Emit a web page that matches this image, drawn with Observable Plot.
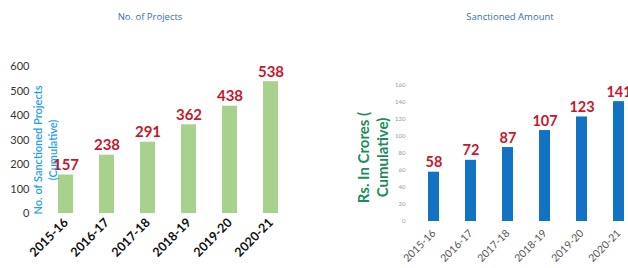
<!DOCTYPE html>
<html>
<head>
<meta charset="utf-8">
<script src="https://cdn.jsdelivr.net/npm/d3@7"></script>
<script src="https://cdn.jsdelivr.net/npm/@observablehq/plot@0.6"></script>
<style>
  html, body { margin: 0; padding: 0; background: #fff; overflow: hidden; }
  #wrap { position: relative; width: 628px; height: 268px; overflow: hidden; }
  .title { position: absolute; top: 10px; font-family: "Open Sans", sans-serif; font-size: 9.5px; color: #3a6fa8; transform: translateX(-50%); white-space: nowrap; }
  .chart { position: absolute; top: 0; }
  .chart svg { max-width: none !important; }
</style>
</head>
<body>
<div id="wrap">
  <div class="title" style="left:150px">No. of Projects</div>
  <div class="title" style="left:510px">Sanctioned Amount</div>
  <div class="chart" id="left" style="left:0px; width:320px"></div>
  <div class="chart" id="right" style="left:320px; width:340px"></div>
</div>
<script>
const years = ["2015-16", "2016-17", "2017-18", "2018-19", "2019-20", "2020-21"];
const projects = [157, 238, 291, 362, 438, 538];
const amounts = [58, 72, 87, 107, 123, 141];
const projectTicks = [0, 100, 200, 300, 400, 500, 600];
const amountTicks = [0, 20, 40, 60, 80, 100, 120, 140, 160];

const leftData = years.map((y, i) => ({year: y, value: projects[i]}));
const rightData = years.map((y, i) => ({year: y, value: amounts[i]}));

const left = Plot.plot({
  width: 320,
  height: 268,
  marginLeft: 30,
  marginRight: 13,
  marginTop: 66,
  marginBottom: 55,
  style: {fontFamily: "Lato, 'Open Sans', sans-serif", background: "transparent"},
  x: {domain: years, padding: 0.63, label: null},
  y: {domain: [0, 600], label: null},
  marks: [
    Plot.barY(leftData, {x: "year", y: "value", fill: "#a9d18e"}),
    Plot.text(leftData, {x: "year", y: "value", text: d => String(d.value), dy: -5, lineAnchor: "bottom", fill: "#c4182f", fontSize: 15, fontWeight: "bold"}),
    Plot.axisY({ticks: projectTicks, tickSize: 0, tickPadding: 1, fontSize: 11, fill: "#333", label: null}),
    Plot.axisX({tickSize: 0, tickPadding: 7, tickRotate: -45, fontSize: 12.5, fontWeight: "bold", fill: "#111", label: null}),
    Plot.text(["No. of Sanctioned Projects\n(Cumulative)"], {frameAnchor: "left", text: d => d, rotate: -90, dx: 14, dy: 10, fontSize: 11, fontWeight: 600, lineHeight: 1.35, fill: "#1ea0e6", textAnchor: "middle"})
  ]
});
document.getElementById("left").appendChild(left);

const right = Plot.plot({
  width: 340,
  height: 268,
  marginLeft: 79,
  marginRight: 7,
  marginTop: 85,
  marginBottom: 47,
  style: {fontFamily: "Lato, 'Open Sans', sans-serif", background: "transparent"},
  x: {domain: years, padding: 0.7, label: null},
  y: {domain: [0, 160], label: null},
  marks: [
    Plot.barY(rightData, {x: "year", y: "value", fill: "#1272c4"}),
    Plot.text(rightData, {x: "year", y: "value", text: d => String(d.value), dy: -5, lineAnchor: "bottom", fill: "#c4182f", fontSize: 14.5, fontWeight: "bold"}),
    Plot.axisY({ticks: amountTicks, tickSize: 0, tickPadding: 0, dx: 6, fontSize: 6, fill: "#999", label: null}),
    Plot.axisX({tickSize: 0, tickPadding: 10, tickRotate: -45, fontSize: 10.5, fill: "#555", label: null}),
    Plot.text(["Rs. In Crores (\nCumulative)"], {frameAnchor: "left", text: d => d, rotate: -90, dx: -27, dy: 4, fontSize: 15, fontWeight: "bold", lineHeight: 1.3, fill: "#1b8c5c", textAnchor: "middle"})
  ]
});
document.getElementById("right").appendChild(right);
</script>
</body>
</html>
